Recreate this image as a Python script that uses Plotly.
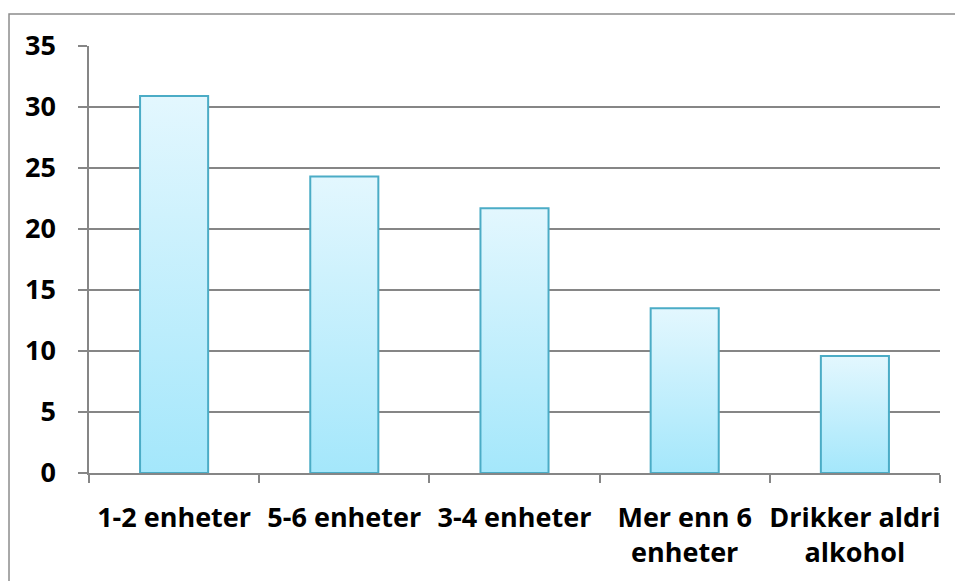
import plotly.graph_objects as go

# Data
categories = ["1-2 enheter", "5-6 enheter", "3-4 enheter", "Mer enn 6<br>enheter", "Drikker aldri<br>alkohol"]
values = [30.9, 24.3, 21.7, 13.5, 9.6]
y_ticks = [0, 5, 10, 15, 20, 25, 30, 35]

BAR_HALF = 0.2
OUTLINE = "#4BACC6"
GRID = "#868686"
FONT = "Open Sans"
FSIZE = 27

fig = go.Figure()

# Each bar as a filled polygon with a vertical gradient (light top, deeper bottom)
for i, v in enumerate(values):
    xs = [i - BAR_HALF, i - BAR_HALF, i + BAR_HALF, i + BAR_HALF, i - BAR_HALF]
    ys = [0, v, v, 0, 0]
    fig.add_trace(go.Scatter(
        x=xs, y=ys, mode="lines", fill="toself",
        fillgradient=dict(type="vertical",
                          colorscale=[[0, "#A4E7FB"], [1, "#E3F7FE"]],
                          start=0, stop=v),
        line=dict(color=OUTLINE, width=2),
        hoverinfo="skip", showlegend=False,
    ))

fig.update_layout(
    width=955, height=581,
    margin=dict(l=89, r=15, t=46, b=108),
    paper_bgcolor="white", plot_bgcolor="white",
    font=dict(family=FONT, size=FSIZE, color="black"),
    xaxis=dict(
        range=[-0.5, len(categories) - 0.5],
        tickmode="array", tickvals=list(range(len(categories))), ticktext=categories,
        ticks="", showgrid=False, zeroline=False,
        showline=True, linecolor=GRID, linewidth=1.5,
        tickfont=dict(family=FONT, size=FSIZE, color="black", weight="bold"),
        ticklabelstandoff=20,
        minor=dict(tickmode="array",
                   tickvals=[k - 0.5 for k in range(len(categories) + 1)],
                   ticks="outside", ticklen=8, tickwidth=1.5, tickcolor=GRID,
                   showgrid=False),
        fixedrange=True,
    ),
    yaxis=dict(
        range=[0, 35], tickmode="array", tickvals=y_ticks,
        ticks="outside", ticklen=9, tickwidth=1.5, tickcolor=GRID,
        showgrid=True, gridcolor=GRID, gridwidth=1.5,
        zeroline=False, showline=True, linecolor=GRID, linewidth=1.5,
        tickfont=dict(family=FONT, size=FSIZE, color="black", weight="bold"),
        ticklabelstandoff=17,
        fixedrange=True,
    ),
    shapes=[dict(type="rect", xref="paper", yref="paper",
                 x0=-0.094, x1=1.2, y0=-0.5, y1=1.075,
                 line=dict(color="#8C8C8C", width=1.5), fillcolor="rgba(0,0,0,0)",
                 layer="below")],
)

fig.write_html("out.html")
